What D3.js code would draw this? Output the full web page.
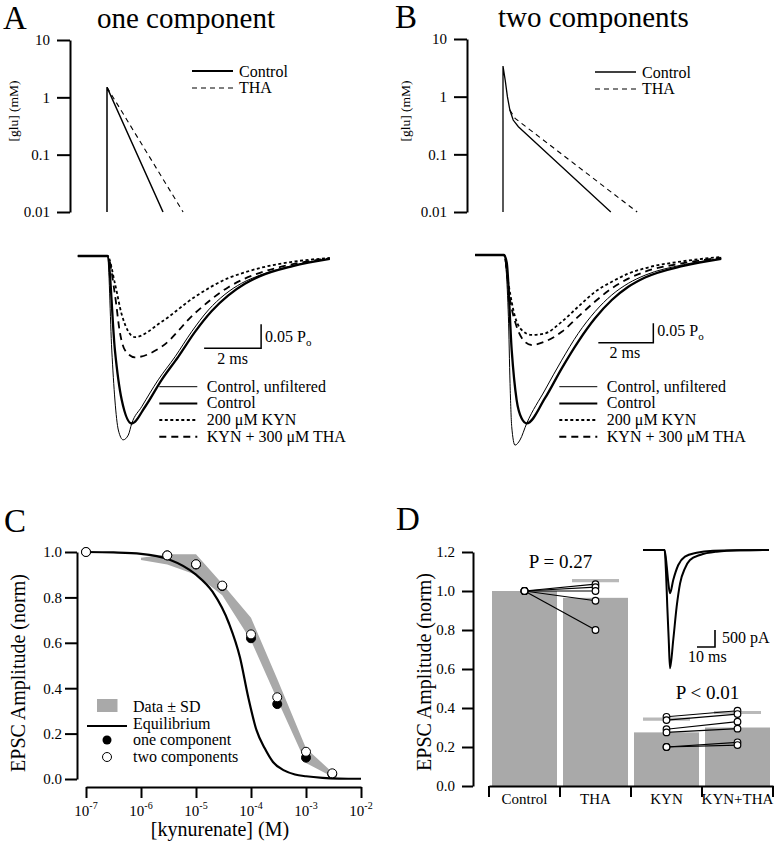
<!DOCTYPE html>
<html><head><meta charset="utf-8">
<script src="https://cdn.jsdelivr.net/npm/d3@7"></script>
<style>body{margin:0;background:#fff}svg{display:block}</style>
</head><body>
<svg id="chart" width="781" height="846"></svg>
<script>
// ---------- DATA ----------
// Panel A/B top: glutamate transients (time ms, [glu] mM)
const gluA_ctrl_t = [0, 0, 1.965];
const gluA_ctrl_v = [0.01, 1.5, 0.01];
const gluA_tha_t = [0, 2.67];
const gluA_tha_v = [1.5, 0.01];
const gluB_ctrl_t = [0, 0, 0.08, 0.16, 0.25, 0.37, 0.56, 3.92];
const gluB_ctrl_v = [0.01, 3.39, 1.94, 1.0, 0.586, 0.393, 0.301, 0.01];
const gluB_tha_t = [0.25, 0.44, 4.88];
const gluB_tha_v = [0.586, 0.42, 0.01];
const gluTicks = [0.01, 0.1, 1, 10];

// Panel A bottom: simulated EPSCs (time ms, open probability Po)
const epA_unf_t = [-1.04, 0, 0.15, 0.26, 0.38, 0.55, 0.73, 0.85, 1.2, 1.78, 2.37, 2.95, 3.54, 4.12, 4.7, 5.35, 6.5, 7.8];
const epA_unf_v = [0, 0, 0.196, 0.30, 0.3625, 0.383, 0.373, 0.349, 0.314, 0.258, 0.21, 0.158, 0.1125, 0.080, 0.057, 0.040, 0.020, 0.006];
const epA_ctl_t = [-1.04, 0, 0.26, 0.5, 0.85, 1.32, 1.9, 2.48, 3.07, 3.65, 4.24, 4.82, 5.35, 6.5, 7.8];
const epA_ctl_v = [0, 0, 0.196, 0.30, 0.349, 0.314, 0.258, 0.21, 0.158, 0.115, 0.082, 0.058, 0.042, 0.021, 0.006];
const epA_kyn_t = [-1.04, 0, 0.26, 0.5, 0.96, 1.9, 3.07, 4.24, 4.82, 5.35, 6.5, 7.8];
const epA_kyn_v = [0, 0, 0.057, 0.122, 0.169, 0.137, 0.085, 0.046, 0.034, 0.025, 0.012, 0.004];
const epA_kt_t = [-1.04, 0, 0.26, 0.44, 0.61, 0.96, 1.9, 3.07, 4.24, 4.82, 5.35, 6.5, 7.8];
const epA_kt_v = [0, 0, 0.08, 0.161, 0.196, 0.211, 0.189, 0.119, 0.065, 0.047, 0.035, 0.017, 0.005];

// Panel B bottom
const epB_unf_t = [-1.05, 0, 0.16, 0.22, 0.28, 0.4, 0.58, 0.825, 1.49, 2.1, 2.7, 3.31, 3.92, 4.52, 5.13, 6.52, 7.9];
const epB_unf_v = [0, 0, 0.159, 0.331, 0.442, 0.49, 0.477, 0.434, 0.348, 0.271, 0.202, 0.146, 0.103, 0.073, 0.052, 0.025, 0.009];
const epB_ctl_t = [-1.05, 0, 0.1, 0.28, 0.46, 0.64, 0.825, 1.49, 2.1, 2.7, 3.31, 3.92, 4.52, 5.13, 6.52, 7.9];
const epB_ctl_v = [0, 0, 0.02, 0.245, 0.374, 0.421, 0.434, 0.369, 0.292, 0.223, 0.163, 0.116, 0.082, 0.058, 0.028, 0.010];
const epB_kyn_t = [-1.05, 0, 0.16, 0.4, 0.64, 1.0, 1.49, 2.1, 2.7, 3.31, 3.92, 4.52, 5.13, 6.52, 7.9];
const epB_kyn_v = [0, 0, 0.073, 0.159, 0.193, 0.206, 0.202, 0.172, 0.133, 0.095, 0.069, 0.048, 0.034, 0.016, 0.005];
const epB_kt_t = [-1.05, 0, 0.22, 0.46, 0.70, 1.0, 1.49, 2.1, 2.7, 3.31, 3.92, 4.52, 5.13, 6.52, 7.9];
const epB_kt_v = [0, 0, 0.116, 0.185, 0.219, 0.232, 0.223, 0.198, 0.159, 0.120, 0.086, 0.061, 0.043, 0.021, 0.007];
const epscLegend = ["Control, unfiltered", "Control", "200 \u03bcM KYN", "KYN + 300 \u03bcM THA"];

// Panel C: kynurenate dose-response
const kynConc = [1e-7, 3e-6, 1e-5, 3e-5, 1e-4, 3e-4, 1e-3, 3e-3];
const oneComp = [1.0, 0.985, 0.945, 0.85, 0.62, 0.33, 0.094, 0.022];
const twoComp = [1.0, 0.985, 0.946, 0.852, 0.637, 0.36, 0.12, 0.025];
const sdConc = [1e-6, 3e-6, 1e-5, 3e-5, 1e-4, 3e-4, 1e-3, 3e-3];
const sdHigh = [0.975, 0.99, 0.99, 0.86, 0.71, 0.44, 0.135, 0.03];
const sdLow = [0.965, 0.945, 0.90, 0.81, 0.61, 0.35, 0.07, 0.01];
const eqLogConc = [-7, -6.5, -6, -5.5, -5, -4.7, -4.4, -4.2, -4.05, -3.9, -3.75, -3.6, -3.4, -3.2, -3, -2.7, -2.4, -2];
const eqAmp = [1.0, 0.998, 0.992, 0.968, 0.9, 0.825, 0.685, 0.535, 0.36, 0.215, 0.135, 0.075, 0.038, 0.02, 0.012, 0.005, 0.002, 0.001];
const decades = [1e-7, 1e-6, 1e-5, 1e-4, 1e-3, 1e-2];
const ampTicksC = [0, 0.2, 0.4, 0.6, 0.8, 1.0];

// Panel D: bar chart
const cats = ["Control", "THA", "KYN", "KYN+THA"];
const meanAmp = [1.0, 0.965, 0.275, 0.30];
const sdAmp = [0, 0.088, 0.068, 0.077];
const pairCtrl = [1, 1, 1, 1, 1];
const pairTHA = [1.035, 1.02, 1.0, 0.95, 0.80];
const pairKYN = [0.355, 0.338, 0.291, 0.275, 0.20, 0.20];
const pairKYNTHA = [0.386, 0.369, 0.33, 0.294, 0.224, 0.21];
const ampTicksD = [0, 0.2, 0.4, 0.6, 0.8, 1.0, 1.2];
// Panel D inset (time ms, current pA)
const insBig_t = [0, 12.0, 12.8, 13.5, 14.3, 15.0, 16.8, 18.7, 20.6, 23.3, 26.1, 31.7, 40.9, 53.9, 70];
const insBig_i = [0, 0, 685, 1668, 2647, 3480, 2647, 1668, 980, 538, 294, 147, 50, 10, 0];
const insSmall_t = [0, 12.0, 13.2, 14.1, 15.0, 16.8, 19.6, 23.3, 29.8, 39.0, 53.9, 70];
const insSmall_i = [0, 0, 491, 980, 1274, 882, 441, 197, 79, 20, 5, 0];

// ---------- DRAWING ----------
const serif = '"Liberation Serif","Times New Roman",Times,serif';
const svg = d3.select("#chart");
svg.append("rect").attr("width", 781).attr("height", 846).attr("fill", "#fff");
const zip = (a, b) => a.map((v, i) => [v, b[i]]);
const GRAY = "#a9a9a9";

function label(x, y, s, size, anchor = "start", rot = 0) {
  const t = svg.append("text").attr("font-family", serif).attr("font-size", size)
    .attr("text-anchor", anchor).attr("fill", "#000");
  if (rot) t.attr("transform", `translate(${x},${y}) rotate(${rot})`);
  else t.attr("x", x).attr("y", y);
  t.text(s);
  return t;
}
function styleAxis(g, size) {
  g.attr("font-family", serif).attr("font-size", size);
  g.select(".domain").attr("stroke", "#000").attr("stroke-width", 2);
  g.selectAll(".tick line").attr("stroke", "#000").attr("stroke-width", 2);
  g.selectAll(".tick text").attr("fill", "#000");
}

// Panel letters & titles
label(3, 29, "A", 33);
label(97, 28, "one component", 29);
label(395, 28, "B", 33);
label(498, 27, "two components", 29);
label(4, 532, "C", 33);
label(396, 530, "D", 33);

// ---- top glutamate panels ----
function gluPanel(o) {
  const x = d3.scaleLinear().domain([0, 8]).range([o.x0, o.x0 + 8 * o.pxms]);
  const y = d3.scaleLog().domain([0.01, 10]).range([212, o.yTop]);
  const ax = svg.append("g").attr("transform", `translate(${o.axisX},0)`)
    .call(d3.axisLeft(y).tickValues(gluTicks).tickFormat(d => String(d))
      .tickSize(13).tickSizeOuter(0).tickPadding(7));
  styleAxis(ax, 15);
  const ln = d3.line().x(d => x(d[0])).y(d => y(d[1]));
  svg.append("path").attr("d", ln(zip(o.ct, o.cv))).attr("fill", "none")
    .attr("stroke", "#000").attr("stroke-width", o.cw);
  svg.append("path").attr("d", ln(zip(o.tt, o.tv))).attr("fill", "none")
    .attr("stroke", "#000").attr("stroke-width", 1.1).attr("stroke-dasharray", "5,4");
  label(o.labX, 111, "[glu] (mM)", 13.5, "middle", -90);
  // legend
  svg.append("line").attr("x1", o.lx).attr("x2", o.lx + 41).attr("y1", o.ly).attr("y2", o.ly)
    .attr("stroke", "#000").attr("stroke-width", o.lw);
  svg.append("line").attr("x1", o.lx).attr("x2", o.lx + 41).attr("y1", o.ly + 17).attr("y2", o.ly + 17)
    .attr("stroke", "#000").attr("stroke-width", 1.1).attr("stroke-dasharray", "5,4");
  label(o.lx + 47, o.ly + 5.5, "Control", 16);
  label(o.lx + 47, o.ly + 22, "THA", 16);
}
gluPanel({x0: 107, pxms: 28.5, yTop: 40, axisX: 70, ct: gluA_ctrl_t, cv: gluA_ctrl_v, tt: gluA_tha_t, tv: gluA_tha_v,
  cw: 1.5, labX: 17.5, lx: 192, ly: 71, lw: 2});
gluPanel({x0: 503, pxms: 27.5, yTop: 39, axisX: 467, ct: gluB_ctrl_t, cv: gluB_ctrl_v, tt: gluB_tha_t, tv: gluB_tha_v,
  cw: 1.3, labX: 409.5, lx: 595, ly: 72, lw: 1.3});

// ---- EPSC panels ----
const styles = [
  {w: 1.0, dash: null},
  {w: 2.3, dash: null},
  {w: 1.8, dash: "3,2.5"},
  {w: 1.8, dash: "7,5"}
];
function epscPanel(o) {
  const x = d3.scaleLinear().domain([0, 8]).range([o.x0, o.x0 + 8 * o.pxms]);
  const y = d3.scaleLinear().domain([0, 0.5]).range([o.base, o.base + 0.5 * o.pxPo]);
  const ln = d3.line().x(d => x(d[0])).y(d => y(d[1])).curve(d3.curveMonotoneX);
  const order = [2, 3, 0, 1];
  order.forEach(k => {
    svg.append("path").attr("d", ln(zip(o.tr[k][0], o.tr[k][1]))).attr("fill", "none")
      .attr("stroke", "#000").attr("stroke-width", styles[k].w)
      .attr("stroke-dasharray", styles[k].dash);
  });
  // scale bar
  const cx = x(o.sb[0]), cy = y(o.sb[1]);
  svg.append("path").attr("d", `M${x(o.sb[0] - 2)},${cy}H${cx}V${y(o.sb[1] - 0.05)}`)
    .attr("fill", "none").attr("stroke", "#000").attr("stroke-width", 1.5);
  const t = label(cx + 4, cy - 6.5, "0.05 P", 16);
  t.append("tspan").attr("font-size", 11).attr("dy", 4).text("o");
  label(cx - 28.5, cy + 15.5, "2 ms", 16, "middle");
  // legend
  epscLegend.forEach((s, k) => {
    const ly = 386.7 + k * 16.7;
    svg.append("line").attr("x1", o.lx).attr("x2", o.lx + 38).attr("y1", ly).attr("y2", ly)
      .attr("stroke", "#000").attr("stroke-width", styles[k].w === 1.0 ? 1.0 : 2)
      .attr("stroke-dasharray", styles[k].dash);
    label(o.lx + 47.5, ly + 5, s, 16);
  });
}
epscPanel({x0: 107.5, pxms: 28.5, base: 256, pxPo: 480, sb: [5.39, 0.192], lx: 159.3,
  tr: [[epA_unf_t, epA_unf_v], [epA_ctl_t, epA_ctl_v], [epA_kyn_t, epA_kyn_v], [epA_kt_t, epA_kt_v]]});
epscPanel({x0: 504, pxms: 27.5, base: 255, pxPo: 388, sb: [5.43, 0.226], lx: 559.3,
  tr: [[epB_unf_t, epB_unf_v], [epB_ctl_t, epB_ctl_v], [epB_kyn_t, epB_kyn_v], [epB_kt_t, epB_kt_v]]});

// ---- Panel C ----
{
  const x = d3.scaleLog().domain([1e-7, 1e-2]).range([86, 361]);
  const y = d3.scaleLinear().domain([0, 1]).range([779, 552]);
  const band = d3.area().x(d => x(d[0])).y0(d => y(d[1])).y1(d => y(d[2]));
  svg.append("path").attr("d", band(sdConc.map((c, i) => [c, sdLow[i], sdHigh[i]])))
    .attr("fill", GRAY).attr("stroke", "none");
  const eq = d3.line().x(d => x(Math.pow(10, d[0]))).y(d => y(d[1])).curve(d3.curveMonotoneX);
  svg.append("path").attr("d", eq(zip(eqLogConc, eqAmp))).attr("fill", "none")
    .attr("stroke", "#000").attr("stroke-width", 2.2);
  svg.selectAll(null).data(zip(kynConc, oneComp)).enter().append("circle")
    .attr("cx", d => x(d[0])).attr("cy", d => y(d[1])).attr("r", 4.5)
    .attr("fill", "#000").attr("stroke", "#000").attr("stroke-width", 1);
  svg.selectAll(null).data(zip(kynConc, twoComp)).enter().append("circle")
    .attr("cx", d => x(d[0])).attr("cy", d => y(d[1])).attr("r", 4.5)
    .attr("fill", "#fff").attr("stroke", "#000").attr("stroke-width", 1);
  const ay = svg.append("g").attr("transform", "translate(77,0)")
    .call(d3.axisLeft(y).tickValues(ampTicksC).tickFormat(d3.format(".1f"))
      .tickSize(12).tickSizeOuter(0).tickPadding(3));
  styleAxis(ay, 15);
  const axg = svg.append("g").attr("transform", "translate(0,787)")
    .call(d3.axisBottom(x).tickValues(decades).tickFormat("").tickSize(11).tickSizeOuter(0));
  styleAxis(axg, 15);
  decades.forEach(d => {
    const t = svg.append("text").attr("x", x(d)).attr("y", 816).attr("text-anchor", "middle")
      .attr("font-family", serif).attr("font-size", 15).attr("fill", "#000");
    t.append("tspan").text("10");
    t.append("tspan").attr("font-size", 10).attr("dy", -7).text(String(Math.round(Math.log10(d))));
  });
  label(220, 836, "[kynurenate] (M)", 20, "middle");
  label(25, 673, "EPSC Amplitude (norm)", 20, "middle", -90);
  // legend
  svg.append("rect").attr("x", 97).attr("y", 699).attr("width", 20.5).attr("height", 13).attr("fill", GRAY);
  svg.append("line").attr("x1", 87).attr("x2", 127).attr("y1", 726).attr("y2", 726)
    .attr("stroke", "#000").attr("stroke-width", 2.2);
  svg.append("circle").attr("cx", 107).attr("cy", 740).attr("r", 4.5).attr("fill", "#000");
  svg.append("circle").attr("cx", 107).attr("cy", 757).attr("r", 4.5).attr("fill", "#fff")
    .attr("stroke", "#000").attr("stroke-width", 1);
  label(133, 711.5, "Data \u00b1 SD", 16);
  label(133, 728.5, "Equilibrium", 16);
  label(133, 745, "one component", 16);
  label(133, 761.5, "two components", 16);
}

// ---- Panel D ----
{
  const x = d3.scaleBand().domain(cats).range([489, 773]);
  const y = d3.scaleLinear().domain([0, 1.2]).range([786, 552]);
  const bw = x.bandwidth();
  svg.selectAll(null).data(cats).enter().append("rect")
    .attr("x", d => x(d) + 3).attr("width", bw - 6)
    .attr("y", (d, i) => y(meanAmp[i])).attr("height", (d, i) => y(0) - y(meanAmp[i]))
    .attr("fill", GRAY);
  cats.forEach((c, i) => {
    if (sdAmp[i] > 0) {
      svg.append("line").attr("x1", x(c) + bw / 2 - 23.5).attr("x2", x(c) + bw / 2 + 23.5)
        .attr("y1", y(meanAmp[i] + sdAmp[i])).attr("y2", y(meanAmp[i] + sdAmp[i]))
        .attr("stroke", "#b9b9b9").attr("stroke-width", 3.2);
    }
  });
  function pairs(c1, c2, a, b) {
    const x1 = x(c1) + bw / 2, x2 = x(c2) + bw / 2;
    const n = Math.max(a.length, b.length);
    for (let i = 0; i < n; i++) {
      const va = a[Math.min(i, a.length - 1)], vb = b[Math.min(i, b.length - 1)];
      svg.append("line").attr("x1", x1).attr("x2", x2).attr("y1", y(va)).attr("y2", y(vb))
        .attr("stroke", "#000").attr("stroke-width", 1.2);
    }
    [[x1, a], [x2, b]].forEach(([xx, arr]) => {
      svg.selectAll(null).data(arr).enter().append("circle").attr("cx", xx).attr("cy", d => y(d))
        .attr("r", 3.3).attr("fill", "#fff").attr("stroke", "#000").attr("stroke-width", 1.2);
    });
  }
  pairs("Control", "THA", pairCtrl, pairTHA);
  pairs("KYN", "KYN+THA", pairKYN, pairKYNTHA);

  const ay = svg.append("g").attr("transform", "translate(473,0)")
    .call(d3.axisLeft(y).tickValues(ampTicksD).tickFormat(d3.format(".1f"))
      .tickSize(11).tickSizeOuter(0).tickPadding(7));
  styleAxis(ay, 15);
  const axg = svg.append("g").attr("transform", "translate(0,786)")
    .call(d3.axisBottom(x).tickSize(0).tickSizeOuter(0).tickPadding(7));
  styleAxis(axg, 15);
  const edges = cats.map(c => x(c)).concat([x(cats[cats.length - 1]) + bw]);
  edges.forEach(e => {
    svg.append("line").attr("x1", e).attr("x2", e).attr("y1", 786).attr("y2", 797)
      .attr("stroke", "#000").attr("stroke-width", 2);
  });
  label(431, 672, "EPSC Amplitude (norm)", 20, "middle", -90);
  label(560.5, 568, "P = 0.27", 19, "middle");
  label(707.5, 699, "P < 0.01", 19, "middle");

  // inset
  const ix = d3.scaleLinear().domain([0, 70]).range([643, 769]);
  const iy = d3.scaleLinear().domain([0, 3500]).range([550, 550 + 3500 * 0.034]);
  const il = d3.line().x(d => ix(d[0])).y(d => iy(d[1])).curve(d3.curveMonotoneX);
  svg.append("path").attr("d", il(zip(insBig_t, insBig_i))).attr("fill", "none")
    .attr("stroke", "#000").attr("stroke-width", 2);
  svg.append("path").attr("d", il(zip(insSmall_t, insSmall_i))).attr("fill", "none")
    .attr("stroke", "#000").attr("stroke-width", 2);
  svg.append("path").attr("d", `M${ix(30)},${iy(2853)}H${ix(40)}V${iy(2353)}`)
    .attr("fill", "none").attr("stroke", "#000").attr("stroke-width", 1.6);
  label(722, 643, "500 pA", 16);
  label(688, 662, "10 ms", 16);
}
</script>
</body></html>
